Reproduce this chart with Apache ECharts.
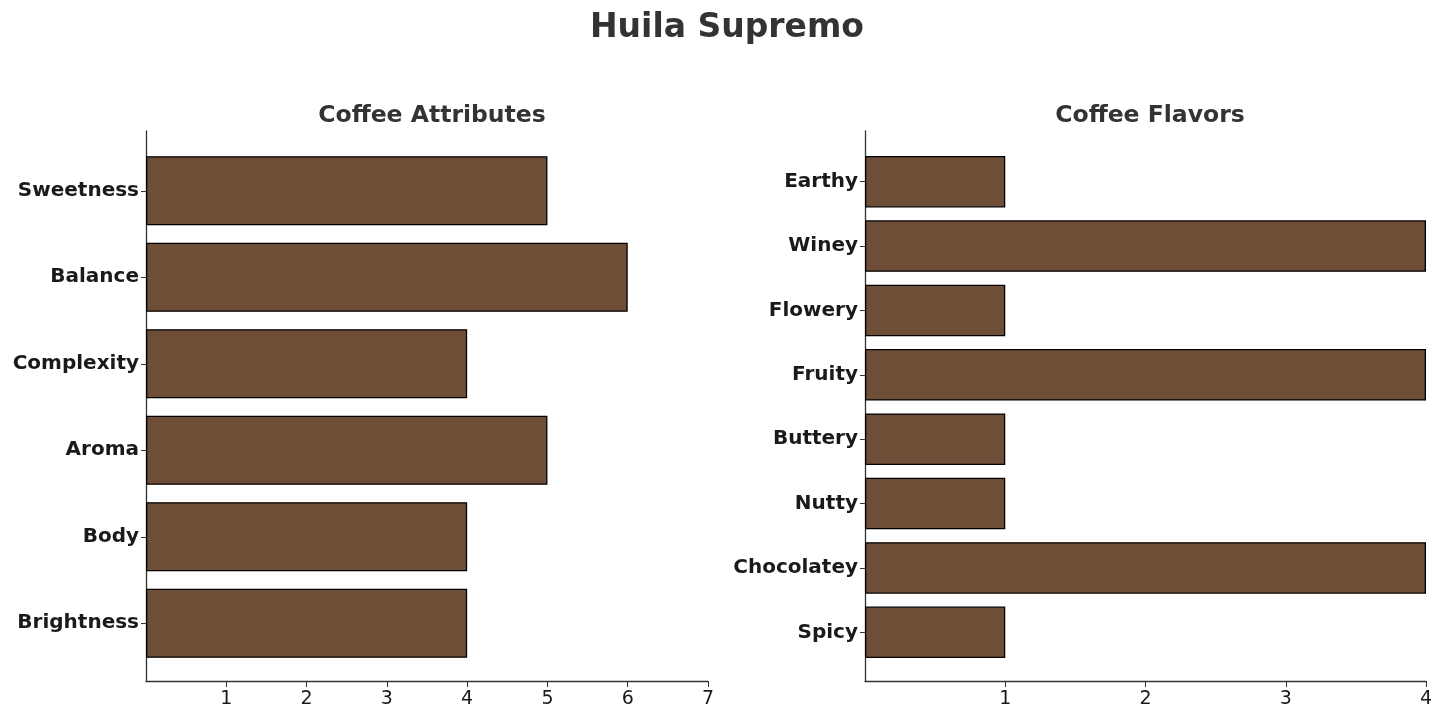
<!DOCTYPE html>
<html>
<head>
<meta charset="utf-8">
<script src="https://cdn.jsdelivr.net/npm/echarts@6/dist/echarts.min.js"></script>
<style>
  html, body { margin: 0; padding: 0; background: #fff; }
  #main { width: 1445px; height: 720px; }
</style>
</head>
<body>
<div id="main"></div>
<script>
// 数据 (从下到上)
var attrNames = ['Brightness', 'Body', 'Aroma', 'Complexity', 'Balance', 'Sweetness'];
var attrValues = [4, 4, 5, 4, 6, 5];
var flavorNames = ['Spicy', 'Chocolatey', 'Nutty', 'Buttery', 'Fruity', 'Flowery', 'Winey', 'Earthy'];
var flavorValues = [1, 4, 1, 1, 4, 1, 4, 1];
var attrTicks = [1, 2, 3, 4, 5, 6, 7];
var flavorTicks = [1, 2, 3, 4];

var FONT = 'DejaVu Sans';
var barColor = '#6F4E37';
var axisColor = '#333';

var myChart = echarts.init(document.getElementById('main'));

// 面板位置
var panels = [
    { left: 146, width: 562, top: 131, height: 550, insetTop: 16.5, insetBottom: 14.5, max: 7, ticks: attrTicks },
    { left: 865, width: 561, top: 131, height: 550, insetTop: 18.5, insetBottom: 16.5, max: 4, ticks: flavorTicks }
];

var grids = [], xAxes = [], yAxes = [];
panels.forEach(function(p, i){
    // 外框: 轴线和刻度
    grids.push({ left: p.left, width: p.width, top: p.top, height: p.height });
    // 内框: 柱子
    grids.push({ left: p.left, width: p.width, top: p.top + p.insetTop, height: p.height - p.insetTop - p.insetBottom });
    xAxes.push({
        type: 'value', gridIndex: i * 2, min: 0, max: p.max, interval: 1,
        axisLine: { show: true, lineStyle: { color: axisColor, width: 1.3 } },
        axisTick: { show: true, length: 6, customValues: p.ticks, lineStyle: { color: axisColor } },
        axisLabel: {
            fontFamily: FONT, fontSize: 19, color: '#1a1a1a', margin: 9,
            customValues: p.ticks
        },
        splitLine: { show: false }
    });
    xAxes.push({
        type: 'value', gridIndex: i * 2 + 1, min: 0, max: p.max, show: false
    });
    yAxes.push({
        type: 'value', gridIndex: i * 2, min: 0, max: 1,
        axisLine: { show: true, lineStyle: { color: axisColor, width: 1.3 } },
        axisTick: { show: false }, axisLabel: { show: false }, splitLine: { show: false }
    });
    yAxes.push({
        type: 'category', gridIndex: i * 2 + 1,
        data: i == 0 ? attrNames : flavorNames,
        axisLine: { show: false },
        axisTick: { show: true, alignWithLabel: true, length: 5, lineStyle: { color: axisColor } },
        axisLabel: { fontFamily: FONT, fontSize: 20, fontWeight: 'bold', color: '#1a1a1a', margin: 7,
                     padding: [5, 0, 0, 0] }
    });
});

function barSeries(values, idx){
    return {
        type: 'bar', xAxisIndex: idx, yAxisIndex: idx,
        data: values, barWidth: '80%',
        itemStyle: { color: barColor, borderColor: '#000', borderWidth: 1.3 },
        silent: true
    };
}

var option = {
    animation: false,
    backgroundColor: '#fff',
    title: [
        { text: 'Huila Supremo', left: 722, top: 7, textAlign: 'center',
          textStyle: { fontFamily: FONT, fontSize: 33, fontWeight: 'bold', color: '#333' } },
        { text: 'Coffee Attributes', left: 427, top: 99, textAlign: 'center',
          textStyle: { fontFamily: FONT, fontSize: 23.5, fontWeight: 'bold', color: '#333' } },
        { text: 'Coffee Flavors', left: 1145, top: 99, textAlign: 'center',
          textStyle: { fontFamily: FONT, fontSize: 23.5, fontWeight: 'bold', color: '#333' } }
    ],
    grid: grids,
    xAxis: xAxes,
    yAxis: yAxes,
    series: [
        barSeries(attrValues, 1),
        barSeries(flavorValues, 3)
    ]
};

myChart.setOption(option);
</script>
</body>
</html>
